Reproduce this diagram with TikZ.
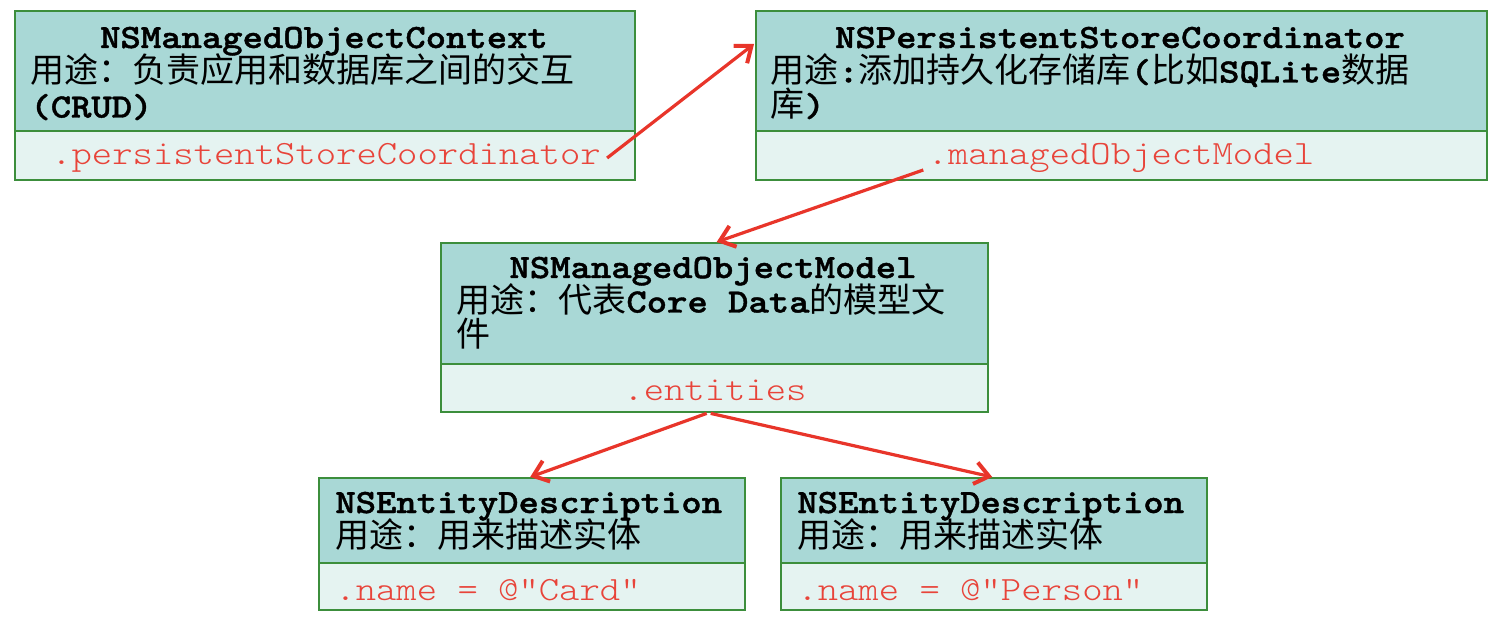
\documentclass[tikz,border=0pt]{standalone}
\usepackage{fontspec}
\setmonofont{lmmono10-regular.otf}[BoldFont=lmmonolt10-bold.otf, BoldFeatures={FakeBold=1.2}, FakeStretch=1.14]
\newfontfamily\attrfont{lmmonolt10-regular.otf}[FakeStretch=1.14]
\newfontfamily\cjk{Noto Sans CJK SC}
\usetikzlibrary{arrows.meta}
\definecolor{hdrfill}{HTML}{A9D8D6}
\definecolor{attrfill}{HTML}{E5F3F1}
\definecolor{boxline}{HTML}{3C8E3C}
\definecolor{redtxt}{HTML}{E8443A}
\definecolor{redarrow}{HTML}{E8352A}
\tikzset{
  hdr/.style={draw=boxline, fill=hdrfill, line width=1.2pt, inner sep=0pt, minimum width=#1, anchor=north west},
  attrbox/.style={draw=boxline, fill=attrfill, line width=1.2pt, inner sep=0pt, minimum width=#1, anchor=north west},
  ttl/.style={font=\fontsize{17pt}{17pt}\selectfont\ttfamily\bfseries, inner sep=0pt, text height=11pt, text depth=3pt},
  cn/.style={font=\fontsize{17pt}{17pt}\selectfont\cjk, inner sep=0pt, anchor=west, text height=12pt, text depth=2.5pt},
  attr/.style={font=\fontsize{17pt}{17pt}\selectfont\attrfont, text=redtxt, inner sep=0pt},
  link/.style={draw=redarrow, line width=1.6pt, -{Straight Barb[length=7pt,width=11pt,line width=2pt]}}
}
\newcommand{\tb}[1]{{\ttfamily\bfseries #1}}
\begin{document}
\begin{tikzpicture}[x=0.5pt,y=-0.5pt]
\useasboundingbox (0,0) rectangle (1498,630);
% Box 1
\node[hdr=310pt, minimum height=60pt] (c1h) at (14,10) {};
\node[attrbox=310pt, minimum height=24.5pt] (c1a) at (14,130) {};
\node[ttl] (c1t) at (324,40) {NSManagedObjectContext};
\node[cn] (c1d) at (30,73) {用途：负责应用和数据库之间的交互};
\node[cn] (c1e) at (30,108) {\tb{(CRUD)}};
\node[attr] (c1p) at (326,158) {.persistentStoreCoordinator};
% Box 2
\node[hdr=365.5pt, minimum height=60pt] (c2h) at (755,10) {};
\node[attrbox=365.5pt, minimum height=24.5pt] (c2a) at (755,130) {};
\node[ttl] (c2t) at (1120,40) {NSPersistentStoreCoordinator};
\node[cn] (c2d) at (770,73) {用途\tb{:}添加持久化存储库\tb{(}比如\tb{SQLite}数据};
\node[cn] (c2e) at (770,107) {库\tb{)}};
\node[attr] (c2p) at (1121,158) {.managedObjectModel};
\coordinate (c2in) at (754,44);
% Box 3
\node[hdr=273.5pt, minimum height=60.5pt] (c3h) at (440,242) {};
\node[attrbox=273.5pt, minimum height=24pt] (c3a) at (440,363) {};
\node[ttl] (c3t) at (713,270) {NSManagedObjectModel};
\node[cn] (c3d) at (456,303) {用途：代表\tb{Core Data}的模型文};
\node[cn] (c3e) at (456,337) {件};
\node[attr] (c3p) at (715,390) {.entities};
% Box 4
\node[hdr=213pt, minimum height=42.5pt] (c4h) at (318,477) {};
\node[attrbox=213pt, minimum height=23.5pt] (c4a) at (318,562) {};
\node[ttl, anchor=west] (c4t) at (335,505) {NSEntityDescription};
\node[cn] (c4d) at (335,538) {用途：用来描述实体};
\node[attr, anchor=west] (c4p) at (335,590) {.name = @”Card”};
% Box 5
\node[hdr=213pt, minimum height=42.5pt] (c5h) at (780,477) {};
\node[attrbox=213pt, minimum height=23.5pt] (c5a) at (780,562) {};
\node[ttl, anchor=west] (c5t) at (797,505) {NSEntityDescription};
\node[cn] (c5d) at (797,538) {用途：用来描述实体};
\node[attr, anchor=west] (c5p) at (797,590) {.name = @”Person”};
% Arrows
\draw[link] ([xshift=3pt]c1p.east) -- (c2in);
\draw[link] ([xshift=-2pt,yshift=-6pt]c2p.west) -- ([xshift=1pt]c3h.north);
\draw[link] ([xshift=-4pt]c3a.south) -- ([xshift=-1pt]c4h.north);
\draw[link] ([xshift=-2pt]c3a.south) -- ([xshift=-1pt]c5h.north);
\end{tikzpicture}
\end{document}
